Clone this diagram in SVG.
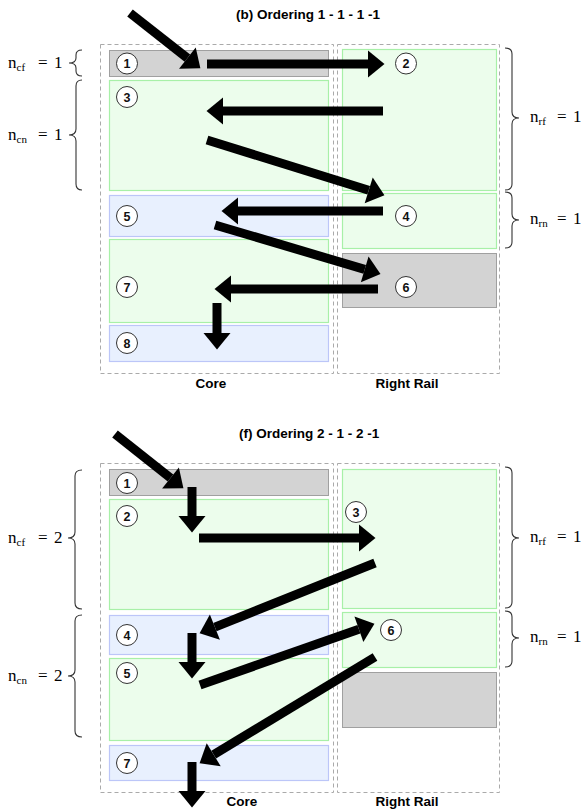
<svg xmlns="http://www.w3.org/2000/svg" width="584" height="809" viewBox="0 0 584 809">
<style>
.bg{fill:#fff}
.dash{fill:none;stroke:#aaa;stroke-width:1;stroke-dasharray:4,3}
.gray{fill:#d3d3d3;stroke:#a0a0a0;stroke-width:1}
.green{fill:#ecfdec;stroke:#a8f0a8;stroke-width:1.2}
.blue{fill:#e8f0fe;stroke:#bcc6f8;stroke-width:1.2}
.num{fill:#fff;stroke:#333;stroke-width:1}
.nt{font-family:"Liberation Sans",Arial,sans-serif;font-size:12.5px;font-weight:bold;fill:#111;text-anchor:middle}
.title{font-family:"Liberation Sans",Arial,sans-serif;font-size:13.5px;font-weight:bold;fill:#000}
.lab{font-family:"Liberation Sans",Arial,sans-serif;font-size:13.5px;font-weight:bold;fill:#000;text-anchor:middle}
.m{font-family:"Liberation Serif","Times New Roman",serif;font-size:17px;fill:#000}
.sub{font-size:11px}
.brace{fill:none;stroke:#333;stroke-width:1.1}
.arr{stroke:#000;stroke-width:9;fill:none;marker-end:url(#ah)}
</style>
<defs>
<marker id="ah" markerUnits="userSpaceOnUse" markerWidth="17" markerHeight="27" refX="0" refY="13.5" orient="auto" overflow="visible">
<path d="M0,0 L16.5,13.5 L0,27 Z" fill="#000"/>
</marker>
</defs>
<rect class="bg" x="0" y="0" width="584" height="809"/>

<!-- Panel (b) -->
<text class="title" x="236" y="19">(b) Ordering 1 - 1 - 1 -1</text>
<rect class="dash" x="100.5" y="44.5" width="233" height="329"/>
<rect class="dash" x="337.5" y="44.5" width="162" height="329"/>
<text class="lab" x="211" y="388">Core</text>
<text class="lab" x="407" y="388">Right Rail</text>

<g id="b-node1"><rect class="gray" x="109.5" y="50.5" width="219" height="26"/><circle class="num" cx="127" cy="63.5" r="10.5"/><text class="nt" x="127" y="68">1</text></g>
<g id="b-node3"><rect class="green" x="109.5" y="80.5" width="219" height="110"/><circle class="num" cx="127" cy="97" r="10.5"/><text class="nt" x="127" y="101.5">3</text></g>
<g id="b-node5"><rect class="blue" x="109.5" y="195.5" width="219" height="41"/><circle class="num" cx="127" cy="216" r="10.5"/><text class="nt" x="127" y="220.5">5</text></g>
<g id="b-node7"><rect class="green" x="109.5" y="239.5" width="219" height="83"/><circle class="num" cx="127" cy="287" r="10.5"/><text class="nt" x="127" y="291.5">7</text></g>
<g id="b-node8"><rect class="blue" x="109.5" y="325.5" width="219" height="36"/><circle class="num" cx="127" cy="343" r="10.5"/><text class="nt" x="127" y="347.5">8</text></g>
<g id="b-node2"><rect class="green" x="342.5" y="49.5" width="154" height="141"/><circle class="num" cx="406" cy="63.5" r="10.5"/><text class="nt" x="406" y="68">2</text></g>
<g id="b-node4"><rect class="green" x="342.5" y="193.5" width="154" height="55"/><circle class="num" cx="406" cy="216" r="10.5"/><text class="nt" x="406" y="220.5">4</text></g>
<g id="b-node6"><rect class="gray" x="342.5" y="253.5" width="154" height="54"/><circle class="num" cx="406" cy="287" r="10.5"/><text class="nt" x="406" y="291.5">6</text></g>

<g id="b-braces">
<path class="brace" d="M82,50 Q76,50 76,55 L76,58 Q76,63 69,63 Q76,63 76,68 L76,71 Q76,76 82,76"/>
<text class="m" x="8" y="68">n<tspan class="sub" dy="3">cf</tspan><tspan dy="-3" x="38">=</tspan><tspan x="54">1</tspan></text>
<path class="brace" d="M82,80 Q76,80 76,86 L76,129 Q76,135 69,135 Q76,135 76,141 L76,184 Q76,190 82,190"/>
<text class="m" x="8" y="140">n<tspan class="sub" dy="3">cn</tspan><tspan dy="-3" x="38">=</tspan><tspan x="54">1</tspan></text>
<path class="brace" d="M505,48 Q512,48 512,54 L512,112 Q512,118 519,118 Q512,118 512,124 L512,184 Q512,190 505,190"/>
<text class="m" x="530" y="122">n<tspan class="sub" dy="3">rf</tspan><tspan dy="-3" x="557">=</tspan><tspan x="573">1</tspan></text>
<path class="brace" d="M505,192 Q512,192 512,198 L512,214 Q512,220 519,220 Q512,220 512,226 L512,242 Q512,248 505,248"/>
<text class="m" x="530" y="224">n<tspan class="sub" dy="3">rn</tspan><tspan dy="-3" x="557">=</tspan><tspan x="573">1</tspan></text>
</g>

<!-- Panel (f) -->
<text class="title" x="239" y="438">(f) Ordering 2 - 1 - 2 -1</text>
<rect class="dash" x="100.5" y="463.5" width="233" height="329"/>
<rect class="dash" x="337.5" y="463.5" width="162" height="329"/>
<text class="lab" x="242" y="806">Core</text>
<text class="lab" x="407" y="806">Right Rail</text>

<g id="f-node1"><rect class="gray" x="109.5" y="469.5" width="219" height="26"/><circle class="num" cx="127" cy="483" r="10.5"/><text class="nt" x="127" y="487.5">1</text></g>
<g id="f-node2"><rect class="green" x="109.5" y="499.5" width="219" height="110"/><circle class="num" cx="127" cy="516" r="10.5"/><text class="nt" x="127" y="520.5">2</text></g>
<g id="f-node4"><rect class="blue" x="109.5" y="615.5" width="219" height="39"/><circle class="num" cx="127" cy="635" r="10.5"/><text class="nt" x="127" y="639.5">4</text></g>
<g id="f-node5"><rect class="green" x="109.5" y="658.5" width="219" height="82"/><circle class="num" cx="127" cy="673" r="10.5"/><text class="nt" x="127" y="677.5">5</text></g>
<g id="f-node7"><rect class="blue" x="109.5" y="745.5" width="219" height="35"/><circle class="num" cx="127" cy="763" r="10.5"/><text class="nt" x="127" y="767.5">7</text></g>
<g id="f-node3"><rect class="green" x="342.5" y="469.5" width="154" height="139"/><circle class="num" cx="356" cy="512" r="10.5"/><text class="nt" x="356" y="516.5">3</text></g>
<g id="f-node6"><rect class="green" x="342.5" y="612.5" width="154" height="55"/><circle class="num" cx="391" cy="630" r="10.5"/><text class="nt" x="391" y="634.5">6</text></g>
<g id="f-empty"><rect class="gray" x="342.5" y="672.5" width="154" height="55"/></g>

<g id="f-braces">
<path class="brace" d="M82,470 Q75,470 75,476 L75,532 Q75,538 68,538 Q75,538 75,544 L75,603 Q75,609 82,609"/>
<text class="m" x="8" y="543">n<tspan class="sub" dy="3">cf</tspan><tspan dy="-3" x="38">=</tspan><tspan x="54">2</tspan></text>
<path class="brace" d="M82,615 Q75,615 75,621 L75,670 Q75,676 68,676 Q75,676 75,682 L75,731 Q75,737 82,737"/>
<text class="m" x="8" y="681">n<tspan class="sub" dy="3">cn</tspan><tspan dy="-3" x="38">=</tspan><tspan x="54">2</tspan></text>
<path class="brace" d="M505,467 Q512,467 512,473 L512,532 Q512,538 519,538 Q512,538 512,544 L512,602 Q512,608 505,608"/>
<text class="m" x="530" y="542">n<tspan class="sub" dy="3">rf</tspan><tspan dy="-3" x="557">=</tspan><tspan x="573">1</tspan></text>
<path class="brace" d="M505,611 Q512,611 512,617 L512,632 Q512,638 519,638 Q512,638 512,644 L512,661 Q512,667 505,667"/>
<text class="m" x="530" y="642">n<tspan class="sub" dy="3">rn</tspan><tspan dy="-3" x="557">=</tspan><tspan x="573">1</tspan></text>
</g>

<g id="connectors">
<line class="arr" x1="130" y1="13" x2="187.4" y2="58.1"/>
<line class="arr" x1="207" y1="64" x2="368" y2="64"/>
<line class="arr" x1="383" y1="111" x2="223" y2="111"/>
<line class="arr" x1="207" y1="140" x2="368.7" y2="190.3"/>
<line class="arr" x1="383" y1="211" x2="238" y2="211"/>
<line class="arr" x1="215" y1="225" x2="364.7" y2="269.4"/>
<line class="arr" x1="378" y1="289" x2="231" y2="289"/>
<line class="arr" x1="217" y1="303" x2="217" y2="333"/>

<line class="arr" x1="115" y1="434" x2="170.5" y2="478"/>
<line class="arr" x1="192" y1="487" x2="192" y2="516"/>
<line class="arr" x1="199" y1="538" x2="359" y2="538"/>
<line class="arr" x1="375" y1="563" x2="214.9" y2="627.1"/>
<line class="arr" x1="192" y1="633" x2="192" y2="662"/>
<line class="arr" x1="200" y1="685" x2="358.9" y2="629.3"/>
<line class="arr" x1="375" y1="657" x2="213.7" y2="754.7"/>
<line class="arr" x1="192" y1="762" x2="192" y2="791"/>
</g>
</svg>
